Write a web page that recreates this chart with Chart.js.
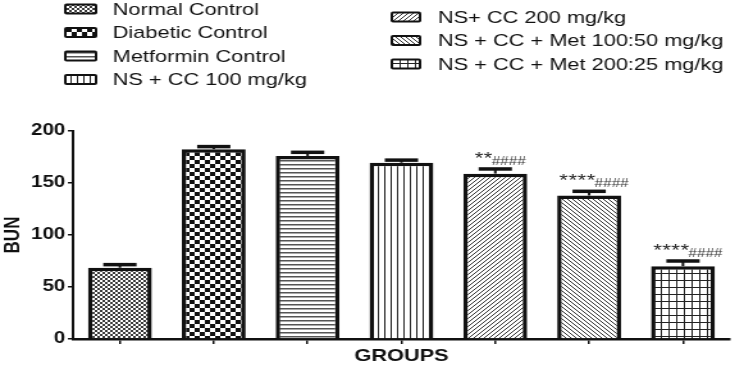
<!DOCTYPE html>
<html>
<head>
<meta charset="utf-8">
<script src="https://cdn.jsdelivr.net/npm/chart.js@4.4.1/dist/chart.umd.min.js"></script>
<style>
html,body{margin:0;padding:0;background:#fff;overflow:hidden;}
#wrap{width:574px;height:372px;transform:scaleX(1.2805);transform-origin:0 0;}
canvas{display:block;}
</style>
</head>
<body>
<div id="wrap"><canvas id="c" width="574" height="372"></canvas></div>
<script>
// ---- data ----
const groups = [
  'Normal Control',
  'Diabetic Control',
  'Metformin Control',
  'NS + CC 100 mg/kg',
  'NS+ CC 200 mg/kg',
  'NS + CC + Met 100:50 mg/kg',
  'NS + CC + Met 200:25 mg/kg'
];
const bunMeans = [68.5, 182.5, 176, 169.5, 159, 138, 70];
const bunSem = [3, 2.5, 3.5, 2.5, 4.5, 4, 5];
const starLabels = ['', '', '', '', '**', '****', '****'];
const hashLabels = ['', '', '', '', '####', '####', '####'];
const yTickValues = [0, 50, 100, 150, 200];
const yAxisTitle = 'BUN';
const xAxisTitle = 'GROUPS';

// ---- patterns ----
function makePattern(w, h, draw) {
  const c = document.createElement('canvas');
  c.width = w; c.height = h;
  const g = c.getContext('2d');
  g.fillStyle = '#fff';
  g.fillRect(0, 0, w, h);
  draw(g, w, h);
  return g.createPattern(c, 'repeat');
}
const patterns = [
  makePattern(4, 4, g => { g.fillStyle = '#3a3a3a'; g.fillRect(0,0,2,2); g.fillRect(2,2,2,2); }),
  makePattern(8, 8, g => { g.fillStyle = '#111'; g.fillRect(0,0,4,4); g.fillRect(4,4,4,4); }),
  makePattern(4, 4, g => { g.fillStyle = '#555'; g.fillRect(0,0,4,1.5); }),
  makePattern(5, 4, g => { g.fillStyle = '#222'; g.fillRect(0,0,1,4); }),
  makePattern(4, 4, g => { g.fillStyle = '#333'; for (let k=0;k<4;k++) g.fillRect(k,3-k,1,1); }),
  makePattern(4, 4, g => { g.fillStyle = '#333'; for (let k=0;k<4;k++) g.fillRect(k,k,1,1); }),
  makePattern(6, 7, g => { g.fillStyle = '#222'; g.fillRect(0,0,6,1); g.fillRect(0,0,1,7); })
];

// ---- plugins ----
const errorBarPlugin = {
  id: 'errorBars',
  afterDatasetsDraw(chart) {
    const ctx = chart.ctx;
    const meta = chart.getDatasetMeta(0);
    const ys = chart.scales.y;
    ctx.save();
    ctx.strokeStyle = '#111';
    meta.data.forEach((bar, i) => {
      const x = bar.x;
      const yTop = ys.getPixelForValue(bunMeans[i]);
      const yErr = ys.getPixelForValue(bunMeans[i] + bunSem[i]);
      ctx.lineWidth = 2;
      ctx.beginPath(); ctx.moveTo(x, yTop); ctx.lineTo(x, yErr); ctx.stroke();
      ctx.lineWidth = 3.5;
      ctx.beginPath(); ctx.moveTo(x - 13, yErr); ctx.lineTo(x + 13, yErr); ctx.stroke();
      // significance labels
      if (starLabels[i]) {
        ctx.fillStyle = '#222';
        ctx.font = '17px Arial, "Liberation Sans", sans-serif';
        ctx.letterSpacing = '0.5px';
        ctx.textBaseline = 'alphabetic';
        ctx.textAlign = 'left';
        const sw = ctx.measureText(starLabels[i]).width;
        const sx = x - 9 - sw / 2;
        ctx.fillText(starLabels[i], sx, yErr - 5);
        ctx.fillStyle = '#333';
        ctx.font = '12px Arial, "Liberation Sans", sans-serif';
        ctx.letterSpacing = '0px';
        ctx.fillText(hashLabels[i], sx + sw - 1, yErr - 4);
      }
    });
    ctx.restore();
  }
};

const legendPlugin = {
  id: 'customLegend',
  afterDraw(chart) {
    const ctx = chart.ctx;
    ctx.save();
    ctx.font = '17px Arial, "Liberation Sans", sans-serif';
    ctx.textBaseline = 'middle';
    ctx.textAlign = 'left';
    groups.forEach((label, i) => {
      const left = i < 4;
      const row = left ? i : i - 4;
      const sx = left ? 50 : 305;
      const sw = left ? 26 : 24;
      const cy = (left ? 9 : 17) + row * 23.5;
      const tx = left ? 88 : 342;
      const sh = 11;
      ctx.fillStyle = '#111';
      ctx.beginPath();
      if (ctx.roundRect) ctx.roundRect(sx, cy - sh/2, sw, sh, 2); else ctx.rect(sx, cy - sh/2, sw, sh);
      ctx.fill();
      ctx.fillStyle = patterns[i];
      ctx.fillRect(sx + 2, cy - sh/2 + 2, sw - 4, sh - 4);
      ctx.fillStyle = '#111';
      ctx.fillText(label, tx, cy + 1);
    });
    ctx.restore();
  }
};

// ---- chart ----
new Chart(document.getElementById('c').getContext('2d'), {
  type: 'bar',
  data: {
    labels: groups,
    datasets: [{
      data: bunMeans,
      backgroundColor: patterns,
      borderColor: '#111',
      borderWidth: 3.5,
      borderSkipped: 'bottom',
      barPercentage: 0.68,
      categoryPercentage: 1
    }]
  },
  options: {
    responsive: false,
    animation: false,
    devicePixelRatio: 1,
    layout: { padding: { top: 131, right: 4, left: 0, bottom: 0 } },
    plugins: { legend: { display: false }, tooltip: { enabled: false } },
    scales: {
      x: {
        offset: true,
        grid: { display: true, drawOnChartArea: false, drawTicks: true, tickLength: 5, color: '#111', lineWidth: 1.5, offset: false },
        border: { display: true, color: '#111', width: 2.5 },
        ticks: { display: false },
        title: { display: true, text: xAxisTitle, color: '#111',
                 font: { family: 'Arial, "Liberation Sans", sans-serif', size: 17, weight: 'bold' },
                 padding: { top: 0, bottom: 5 } },
        afterFit(s) { s.height = 33; }
      },
      y: {
        min: 0, max: 200,
        afterBuildTicks(s) { s.ticks = yTickValues.map(v => ({ value: v })); },
        grid: { display: true, drawOnChartArea: false, drawTicks: true, tickLength: 4, color: '#111', lineWidth: 1.5 },
        border: { display: true, color: '#111', width: 2 },
        ticks: { color: '#111', padding: 2,
                 font: { family: 'Arial, "Liberation Sans", sans-serif', size: 16, weight: 'bold' } },
        title: { display: true, text: yAxisTitle, color: '#111',
                 font: { family: 'Arial, "Liberation Sans", sans-serif', size: 17, weight: 'bold' },
                 padding: { top: 0, bottom: 0 } },
        afterFit(s) { s.width = 57; }
      }
    }
  },
  plugins: [errorBarPlugin, legendPlugin]
});
</script>
</body>
</html>
